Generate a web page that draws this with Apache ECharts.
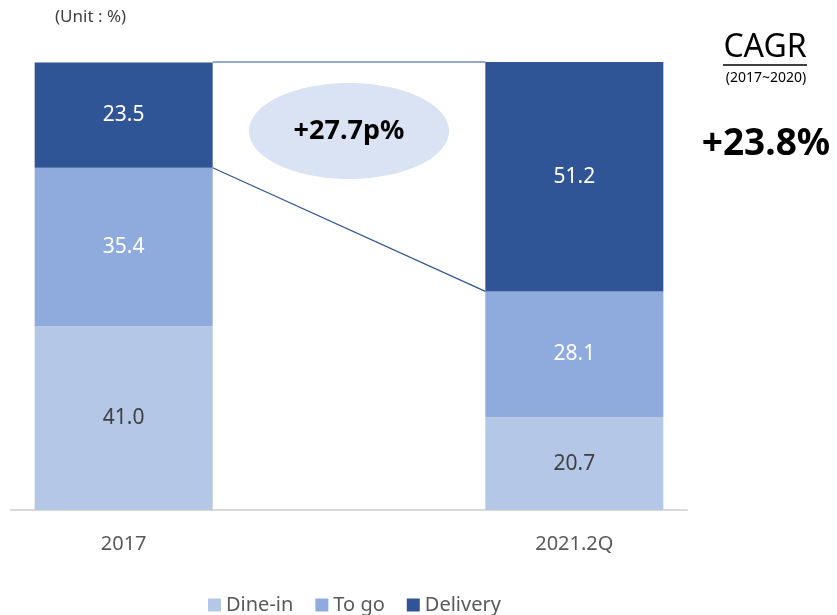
<!DOCTYPE html>
<html>
<head>
<meta charset="utf-8">
<script src="https://cdn.jsdelivr.net/npm/echarts@6/dist/echarts.min.js"></script>
<style>
  html, body { margin: 0; padding: 0; background: #fff; }
  #chart { width: 837px; height: 615px; }
</style>
</head>
<body>
<div id="chart"></div>
<script>
// categories (the empty middle one keeps the gap between the two bars)
const categories = ['2017', '', '2021.2Q'];
const dineIn = [41.0, null, 20.7];
const toGo = [35.4, null, 28.1];
const delivery = [23.5, null, 51.2];
const seriesNames = ['Dine-in', 'To go', 'Delivery'];
const colors = ['#b4c7e7', '#8faadc', '#2f5597'];
const labelColors = ['#404040', '#ffffff', '#ffffff'];
const gapText = '+27.7p%';
const cagrPeriod = '(2017~2020)';
const cagrValue = '+23.8%';

const FONT = '"Noto Sans", "Open Sans", sans-serif';
const BAR_RATIO = 0.79;

const chart = echarts.init(document.getElementById('chart'));

const makeSeries = (name, data, i) => ({
  name: name,
  type: 'bar',
  stack: 'total',
  data: data,
  barWidth: BAR_RATIO * 100 + '%',
  itemStyle: { color: colors[i] },
  label: {
    show: true,
    position: 'inside',
    formatter: (p) => p.value.toFixed(1),
    color: labelColors[i],
    fontSize: 21,
    fontFamily: FONT
  }
});

chart.setOption({
  animation: false,
  grid: { left: 11, width: 676, top: 62, bottom: 105 },
  legend: {
    left: 203,
    top: 590,
    itemWidth: 13,
    itemHeight: 13,
    itemGap: 22,
    icon: 'rect',
    textStyle: { fontSize: 20, color: '#595959', fontFamily: FONT }
  },
  xAxis: {
    type: 'category',
    data: categories,
    axisLine: { lineStyle: { color: '#d9d9d9', width: 2 } },
    axisTick: { show: false },
    axisLabel: { color: '#595959', fontSize: 20, margin: 24, fontFamily: FONT }
  },
  yAxis: {
    type: 'value',
    min: 0,
    max: 100,
    show: false
  },
  series: [
    makeSeries(seriesNames[0], dineIn, 0),
    makeSeries(seriesNames[1], toGo, 1),
    makeSeries(seriesNames[2], delivery, 2)
  ]
});

// connectors and annotations, placed from the axis scales
const toPx = (c, v) => chart.convertToPixel({ gridIndex: 0 }, [c, v]);
const band = toPx(2, 0)[0] - toPx(1, 0)[0];
const half = band * BAR_RATIO / 2;
const left = toPx(0, 100);
const right = toPx(2, 100);
const lowL = toPx(0, dineIn[0] + toGo[0]);
const lowR = toPx(2, dineIn[2] + toGo[2]);
const mid = toPx(1, 84.6);

chart.setOption({
  graphic: [
    {
      type: 'line',
      shape: { x1: left[0] + half, y1: left[1], x2: right[0] - half, y2: right[1] },
      style: { stroke: '#6f8cc2', lineWidth: 1.5 }
    },
    {
      type: 'line',
      shape: { x1: lowL[0] + half, y1: lowL[1], x2: lowR[0] - half, y2: lowR[1] },
      style: { stroke: '#2f5597', lineWidth: 1.2 }
    },
    {
      type: 'ellipse',
      shape: { cx: mid[0], cy: mid[1], rx: 100, ry: 48 },
      style: { fill: '#dae3f3' }
    },
    {
      type: 'text',
      x: mid[0],
      y: mid[1],
      style: {
        text: gapText,
        align: 'center',
        verticalAlign: 'middle',
        font: 'bold 27px ' + FONT,
        fill: '#000'
      }
    },
    {
      type: 'text',
      x: 55,
      y: 17,
      style: { text: '(Unit : %)', verticalAlign: 'middle', font: '17px ' + FONT, fill: '#404040' }
    },
    {
      type: 'text',
      x: 765,
      y: 64,
      style: {
        text: 'CAGR',
        align: 'center',
        verticalAlign: 'bottom',
        font: '32px ' + FONT,
        fill: '#000'
      }
    },
    {
      type: 'line',
      shape: { x1: 723, y1: 65, x2: 807, y2: 65 },
      style: { stroke: '#000', lineWidth: 1.5 }
    },
    {
      type: 'text',
      x: 766,
      y: 78,
      style: {
        text: cagrPeriod,
        align: 'center',
        verticalAlign: 'middle',
        font: '14px ' + FONT,
        fill: '#000'
      }
    },
    {
      type: 'text',
      x: 766,
      y: 144,
      style: {
        text: cagrValue,
        align: 'center',
        verticalAlign: 'middle',
        font: 'bold 37px ' + FONT,
        fill: '#000'
      }
    }
  ]
});

window.addEventListener('resize', () => chart.resize());
</script>
</body>
</html>
